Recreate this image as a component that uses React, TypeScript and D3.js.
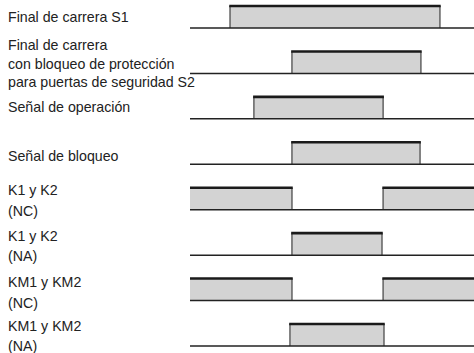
import React from "react";
import * as d3 from "d3";

// Signal rows: label lines and intervals (time units, 0..100) where the signal is high
const rowLabels: string[][] = [
  ["Final de carrera S1"],
  ["Final de carrera", "con bloqueo de protección", "para puertas de seguridad S2"],
  ["Señal de operación"],
  ["Señal de bloqueo"],
  ["K1 y K2", "(NC)"],
  ["K1 y K2", "(NA)"],
  ["KM1 y KM2", "(NC)"],
  ["KM1 y KM2", "(NA)"],
];

const highIntervals: [number, number][][] = [
  [[14.1, 88.0]],
  [[35.9, 81.3]],
  [[22.5, 68.0]],
  [[35.9, 81.0]],
  [[0, 35.9], [68.0, 100]],
  [[35.9, 67.6]],
  [[0, 35.9], [68.0, 100]],
  [[35.2, 68.3]],
];

// baseline offset of the last label line relative to the row baseline
const labelLastOffsets: number[] = [-6, 14, -7, -3, 6, 6, 7, 5];

const W = 474;
const H = 353;

export default function App() {
  const x = d3.scaleLinear().domain([0, 100]).range([190, 474]);
  const y = d3.scaleLinear().domain([0, rowLabels.length - 1]).range([28, 346]);
  const highH = 22;

  return (
    <svg
      width={W}
      height={H}
      style={{ position: "absolute", left: 0, top: 0, background: "#fff" }}
      fontFamily="'Liberation Sans', Arial, Helvetica, sans-serif"
    >
      {rowLabels.map((lines, i) => {
        const base = y(i);
        const lastY = base + labelLastOffsets[i];
        const lineH = lines.length > 2 ? 18.5 : 20.5;
        return (
          <g key={i}>
            {lines.map((t, j) => (
              <text
                key={j}
                x={8}
                y={lastY - (lines.length - 1 - j) * lineH}
                fontSize={14.2}
                fill="#222"
              >
                {t}
              </text>
            ))}
            {highIntervals[i].map(([a, b], k) => {
              const x0 = x(a);
              const x1 = x(b);
              const top = base - highH;
              return (
                <g key={k}>
                  <rect x={x0} y={top} width={x1 - x0} height={highH} fill="#d3d3d3" />
                  {a > 0 && (
                    <line x1={x0} x2={x0} y1={top} y2={base} stroke="#6a6a6a" strokeWidth={1.6} />
                  )}
                  {b < 100 && (
                    <line x1={x1} x2={x1} y1={top} y2={base} stroke="#6a6a6a" strokeWidth={1.6} />
                  )}
                  <line x1={x0 - (a > 0 ? 0.8 : 0)} x2={x1 + (b < 100 ? 0.8 : 0)} y1={top} y2={top} stroke="#1a1a1a" strokeWidth={2.6} />
                </g>
              );
            })}
            <line x1={x(0)} x2={x(100)} y1={base} y2={base} stroke="#222" strokeWidth={1.5} />
          </g>
        );
      })}
    </svg>
  );
}
